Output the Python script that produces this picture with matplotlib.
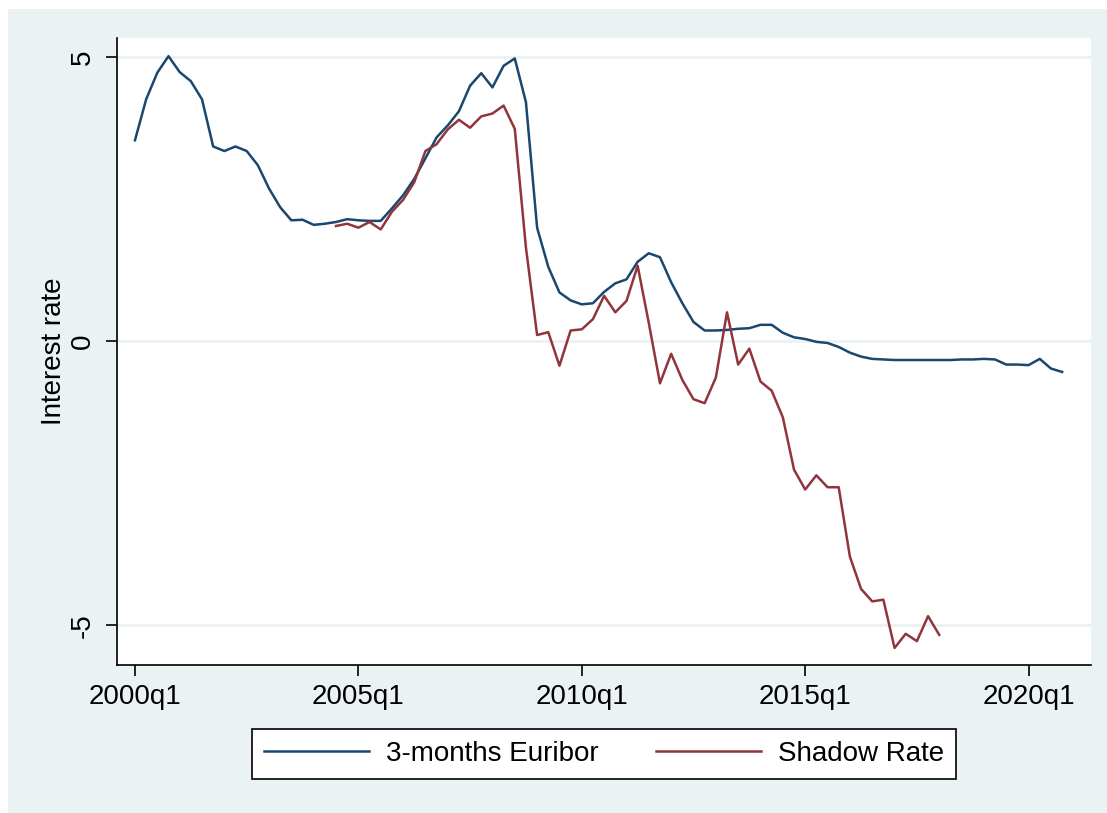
import numpy as np
import matplotlib
matplotlib.use('Agg')
import matplotlib.pyplot as plt
from matplotlib.patches import Rectangle

plt.rcParams['font.family'] = ['Liberation Sans', 'DejaVu Sans']

# quarterly data, 2000q1 .. 2020q4
euribor = [3.54, 4.26, 4.73, 5.02, 4.74, 4.58, 4.26, 3.43, 3.35, 3.43,
           3.35, 3.10, 2.69, 2.36, 2.13, 2.14, 2.05, 2.07, 2.10, 2.15,
           2.13, 2.12, 2.12, 2.34, 2.57, 2.86, 3.22, 3.59, 3.80, 4.05,
           4.50, 4.72, 4.47, 4.85, 4.98, 4.21, 2.00, 1.31, 0.86, 0.72,
           0.65, 0.67, 0.87, 1.02, 1.09, 1.40, 1.55, 1.48, 1.04, 0.67,
           0.34, 0.19, 0.19, 0.20, 0.22, 0.23, 0.29, 0.29, 0.15, 0.07,
           0.04, -0.01, -0.03, -0.10, -0.20, -0.27, -0.31, -0.32, -0.33, -0.33,
           -0.33, -0.33, -0.33, -0.33, -0.32, -0.32, -0.31, -0.32, -0.41, -0.41,
           -0.42, -0.31, -0.48, -0.54]
# shadow rate, 2004q3 .. 2018q1
shadow_start = 18
shadow = [2.03, 2.07, 2.00, 2.10, 1.97, 2.28, 2.49, 2.80, 3.35, 3.47,
          3.73, 3.90, 3.76, 3.96, 4.01, 4.15, 3.74, 1.65, 0.11, 0.16,
          -0.43, 0.19, 0.21, 0.39, 0.80, 0.51, 0.71, 1.33, 0.32, -0.74,
          -0.22, -0.68, -1.02, -1.09, -0.64, 0.51, -0.41, -0.13, -0.71, -0.87,
          -1.34, -2.26, -2.61, -2.36, -2.57, -2.57, -3.79, -4.36, -4.58, -4.55,
          -5.40, -5.15, -5.28, -4.84, -5.17]

xtick_q = [0, 20, 40, 60, 80]
xtick_labels = ['2000q1', '2005q1', '2010q1', '2015q1', '2020q1']
ytick_vals = [-5, 0, 5]

bg = '#EAF2F3'
fs = 20
fig = plt.figure(figsize=(11.07, 8.13), dpi=100, facecolor='white')
fig.patches.append(Rectangle((8/1107, 0), 1, 1 - 9/813, transform=fig.transFigure,
                             facecolor=bg, edgecolor='none', zorder=-10))
ax = fig.add_axes([117/1107, 1 - 665/813, (1090.7 - 117)/1107, (665 - 38)/813])
ax.set_zorder(1)
ax.set_facecolor('white')

x1 = np.arange(len(euribor))
x2 = np.arange(len(shadow)) + shadow_start
ax.plot(x1, euribor, color='#1A476F', lw=1.8, label='3-months Euribor', zorder=3)
ax.plot(x2, shadow, color='#90353B', lw=1.8, label='Shadow Rate', zorder=3)

ax.set_xlim(-1.61, 85.56)
ax.set_ylim(-5.70, 5.34)
ax.set_xticks(xtick_q)
ax.set_xticklabels(xtick_labels)
ax.set_yticks(ytick_vals)
ax.set_yticklabels([str(v) for v in ytick_vals], rotation=90, va='center')
for v in ytick_vals:
    ax.axhline(v, color=bg, lw=2, zorder=1)

for s in ['top', 'right']:
    ax.spines[s].set_visible(False)
for s in ['left', 'bottom']:
    ax.spines[s].set_linewidth(1.2)
ax.tick_params(axis='both', length=8, width=1.2, labelsize=fs, direction='out')
ax.tick_params(axis='y', pad=7)
ax.tick_params(axis='x', pad=6)
ax.set_ylabel('Interest rate', fontsize=fs, labelpad=2)

leg = fig.legend(loc='center', bbox_to_anchor=(604/1107, 1 - 754/813), ncol=2,
                 fontsize=fs, frameon=True, fancybox=False, handlelength=3.8,
                 handletextpad=0.6, columnspacing=2.05, borderpad=0.42,
                 framealpha=1)
leg.set_zorder(5)
leg.get_frame().set_edgecolor('black')
leg.get_frame().set_linewidth(1.2)
leg.get_frame().set_facecolor('white')

fig.savefig('out.png', dpi=100, facecolor='white')
